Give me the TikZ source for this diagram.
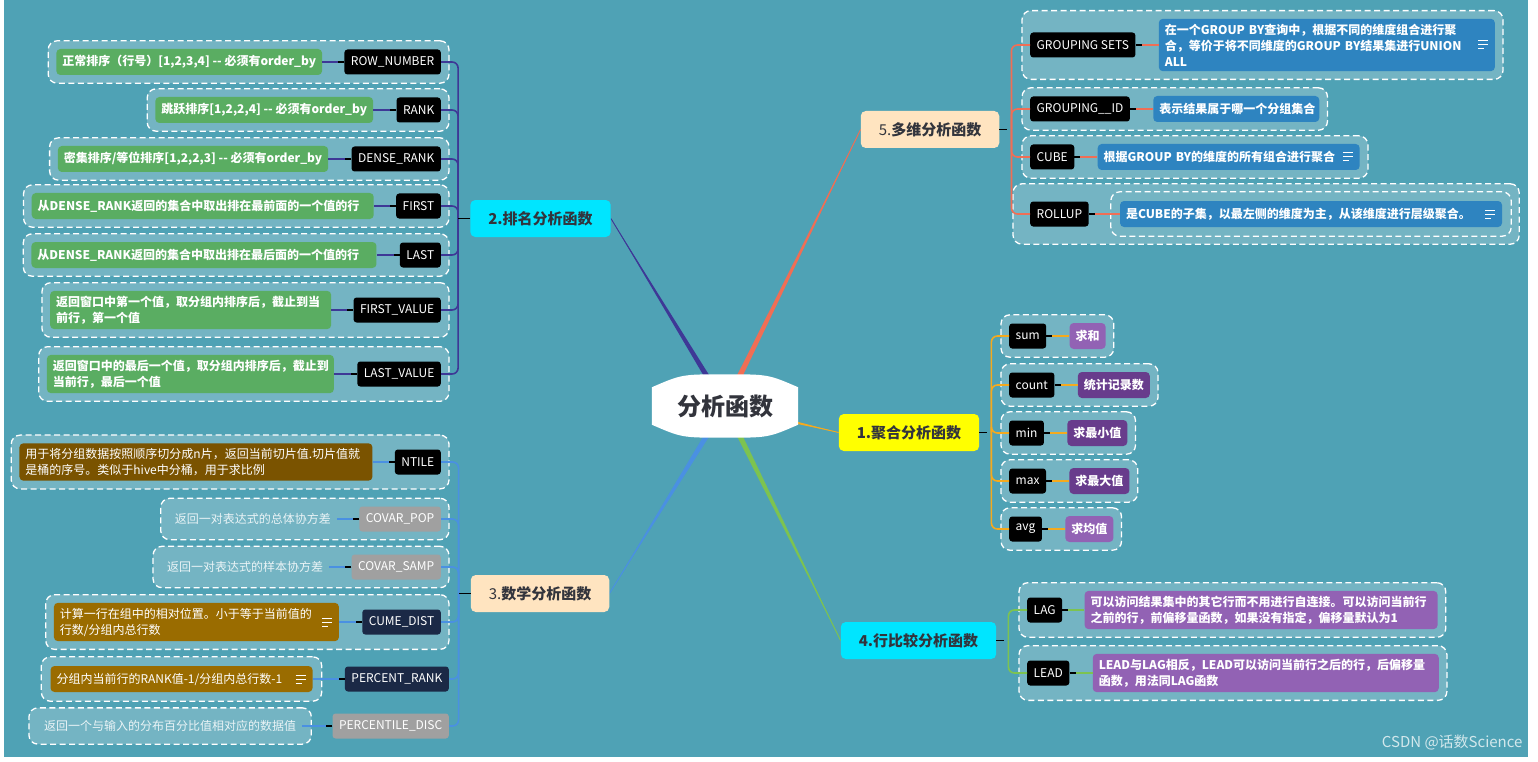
\documentclass[tikz,border=0pt]{standalone}
\usepackage{fontspec}
\setmainfont{Noto Sans CJK SC}
\usetikzlibrary{positioning,calc,fit}
\definecolor{seaT}{RGB}{79,162,181}
\definecolor{grpT}{RGB}{116,180,195}
\definecolor{rankC}{RGB}{62,56,150}
\definecolor{multiC}{RGB}{240,110,85}
\definecolor{aggC}{RGB}{245,170,30}
\definecolor{cmpC}{RGB}{125,195,80}
\definecolor{mathC}{RGB}{74,144,226}
\definecolor{cyanB}{RGB}{0,229,255}
\definecolor{peachB}{RGB}{255,228,192}
\definecolor{yelB}{RGB}{255,255,0}
\definecolor{grnD}{RGB}{90,173,98}
\definecolor{bluD}{RGB}{46,132,192}
\definecolor{lilD}{RGB}{146,98,180}
\definecolor{vioD}{RGB}{104,60,140}
\definecolor{brnD}{RGB}{122,83,0}
\definecolor{ochD}{RGB}{154,108,0}
\definecolor{navyF}{RGB}{27,41,70}
\definecolor{greyF}{RGB}{160,160,160}
\definecolor{inkT}{RGB}{50,52,60}
\pgfdeclarelayer{back}
\pgfdeclarelayer{mid}
\pgfsetlayers{back,mid,main}
% tapered link from the root to a branch
\newcommand\rootlink[3]{%
  \fill[#1] ($(#2)!3pt!90:(#3)$) -- (#3) -- ($(#2)!3pt!-90:(#3)$) -- cycle;
  \draw[#1, line width=0.9pt] (#2) -- (#3);}
% little "note" mark inside a description box
\newcommand\noteicon[1]{%
  \draw[white, line width=1pt] ($(#1.east)+(-17,-4)$) -- ++(10,0)
    ($(#1.east)+(-17,0)$) -- ++(10,0) ($(#1.east)+(-17,4)$) -- ++(6,0);}

\begin{document}
\begin{tikzpicture}[x=1pt, y=-1pt,
  grp/.style={draw=white, fill=grpT, line width=1.3pt, dash pattern=on 6pt off 3.5pt,
    rounded corners=9pt, inner sep=8pt},
  fn/.style={fill=#1, text=white, rounded corners=3pt, minimum height=25pt,
    inner xsep=6.5pt, inner ysep=3pt, font=\fontsize{12pt}{15pt}\selectfont},
  desc/.style={fill=#1, text=white, rounded corners=4pt, minimum height=26pt,
    inner xsep=6pt, inner ysep=5pt, align=left, font=\fontsize{12pt}{16pt}\selectfont\bfseries},
  lite/.style={font=\fontsize{12pt}{16pt}\selectfont\mdseries},
  plain/.style={text=white!88!seaT, inner xsep=6pt, font=\fontsize{12pt}{16pt}\selectfont},
  branch/.style={fill=#1, text=inkT, rounded corners=5pt, minimum height=37pt,
    inner xsep=18pt, font=\fontsize{15pt}{18pt}\selectfont\bfseries},
  trunk/.style={draw=#1, line width=1.6pt, rounded corners=6pt},
  link/.style={draw=#1, line width=1.4pt},
  stub/.style={draw=black, line width=1.4pt},
]
\useasboundingbox (0,0) rectangle (1538,762);

\begin{pgfonlayer}{back}
  \fill[white] (0,0) rectangle (1538,762);
  \fill[seaT] (4,0) rectangle (1528,757);
\end{pgfonlayer}

% main branches
\coordinate (rc) at (725,406);
\node[branch=cyanB] (b2) at (540.5,218.5) {2.排名分析函数};
\node[branch=peachB] (b3) at (540,593.5) {{\mdseries 3.}数学分析函数};
\node[branch=peachB] (b5) at (930,129.5) {{\mdseries 5.}多维分析函数};
\node[branch=yelB] (b1) at (909,432.5) {1.聚合分析函数};
\node[branch=cyanB] (b4) at (918.5,640.5) {4.行比较分析函数};

\begin{pgfonlayer}{back}
  \rootlink{rankC}{rc}{b2.east}
  \rootlink{mathC}{rc}{b3.east}
  \rootlink{multiC}{rc}{b5.west}
  \rootlink{aggC}{rc}{b1.west}
  \rootlink{cmpC}{rc}{b4.west}
\end{pgfonlayer}

% root
\node[font=\fontsize{24pt}{28pt}\selectfont\bfseries, text=inkT, minimum width=146pt,
  minimum height=63pt, inner sep=0pt] (root) at (rc) {分析函数};
\begin{pgfonlayer}{mid}
  \fill[white] ($(root.north west)+(0,13)$) .. controls ($(root.north west)+(30,0)$) .. (root.north)
    .. controls ($(root.north east)+(-30,0)$) .. ($(root.north east)+(0,13)$)
    -- ($(root.south east)+(0,-13)$) .. controls ($(root.south east)+(-30,0)$) .. (root.south)
    .. controls ($(root.south west)+(30,0)$) .. ($(root.south west)+(0,-13)$) -- cycle;
\end{pgfonlayer}

% 2. ranking functions
\node[fn=black, anchor=east] (rn) at (441,62) {ROW\_NUMBER};
\node[fn=black, anchor=east] (rk) at (441,110) {RANK};
\node[fn=black, anchor=east] (dr) at (441,159) {DENSE\_RANK};
\node[fn=black, anchor=east] (fi) at (441,206) {FIRST};
\node[fn=black, anchor=east] (la) at (441,255) {LAST};
\node[fn=black, anchor=east] (fv) at (441,310) {FIRST\_VALUE};
\node[fn=black, anchor=east] (lv) at (441,374) {LAST\_VALUE};
\node[desc=grnD, left=22pt of rn] (rnD) {正常排序（行号）[1,2,3,4]~-{}-~必须有order\_by};
\node[desc=grnD, left=23pt of rk] (rkD) {跳跃排序[1,2,2,4]~-{}-~必须有order\_by};
\node[desc=grnD, left=23pt of dr] (drD) {密集排序/等位排序[1,2,2,3]~-{}-~必须有order\_by};
\node[desc=grnD, text width=330pt, left=22pt of fi] (fiD) {从DENSE\_RANK返回的集合中取出排在最前面的一个值的行};
\node[desc=grnD, text width=333pt, left=23pt of la] (laD) {从DENSE\_RANK返回的集合中取出排在最后面的一个值的行};
\node[desc=grnD, text width=269pt, left=22pt of fv] (fvD) {返回窗口中第一个值，取分组内排序后，截止到当\\前行，第一个值};
\node[desc=grnD, text width=275pt, left=23pt of lv] (lvD) {返回窗口中的最后一个值，取分组内排序后，截止到\\当前行，最后一个值};

% 3. math functions
\node[fn=black, anchor=east] (nt) at (441,462) {NTILE};
\node[fn=greyF, anchor=east] (cp) at (441,519) {COVAR\_POP};
\node[fn=greyF, anchor=east] (cs) at (441,567) {COVAR\_SAMP};
\node[fn=navyF, anchor=east] (cd) at (441,622) {CUME\_DIST};
\node[fn=navyF, anchor=east] (pr) at (449,679) {PERCENT\_RANK};
\node[fn=greyF, anchor=east] (pd) at (449,726) {PERCENTILE\_DISC};
\node[desc=brnD, lite, text width=341pt, left=22pt of nt] (ntD) {用于将分组数据按照顺序切分成n片，返回当前切片值.切片值就\\是桶的序号。类似于hive中分桶，用于求比例};
\node[plain, left=22pt of cp] (cpD) {返回一对表达式的总体协方差};
\node[plain, left=22pt of cs] (csD) {返回一对表达式的样本协方差};
\node[desc=ochD, lite, text width=273pt, left=23pt of cd] (cdD) {计算一行在组中的相对位置。小于等于当前值的\\行数/分组内总行数};
\node[desc=ochD, lite, text width=250pt, left=32pt of pr] (prD) {分组内当前行的RANK值-1/分组内总行数-1};
\node[plain, left=30pt of pd] (pdD) {返回一个与输入的分布百分比值相对应的数据值};

% 5. multi-dimensional functions
\node[fn=black, anchor=west] (gs) at (1030,45) {GROUPING SETS};
\node[fn=black, anchor=west] (gi) at (1030,109) {GROUPING\_\_ID};
\node[fn=black, anchor=west] (cu) at (1030,157) {CUBE};
\node[fn=black, anchor=west] (ro) at (1030,214) {ROLLUP};
\node[desc=bluD, text width=324pt, right=23pt of gs] (gsD) {在一个GROUP BY查询中，根据不同的维度组合进行聚\\合，等价于将不同维度的GROUP BY结果集进行UNION\\ALL};
\node[desc=bluD, text width=154pt, right=23pt of gi] (giD) {表示结果属于哪一个分组集合};
\node[desc=bluD, text width=250pt, right=23pt of cu] (cuD) {根据GROUP BY的维度的所有组合进行聚合};
\node[desc=bluD, text width=370pt, right=31pt of ro] (roD) {是CUBE的子集，以最左侧的维度为主，从该维度进行层级聚合。};

% 1. aggregate functions
\node[fn=black, anchor=west] (sm) at (1009,336) {sum};
\node[fn=black, anchor=west] (ct) at (1009,385) {count};
\node[fn=black, anchor=west] (mn) at (1009,433) {min};
\node[fn=black, anchor=west] (mx) at (1009,481) {max};
\node[fn=black, anchor=west] (av) at (1009,529) {avg};
\node[desc=lilD, right=23pt of sm] (smD) {求和};
\node[desc=vioD, right=23pt of ct] (ctD) {统计记录数};
\node[desc=vioD, right=23pt of mn] (mnD) {求最小值};
\node[desc=vioD, right=23pt of mx] (mxD) {求最大值};
\node[desc=lilD, right=23pt of av] (avD) {求均值};

% 4. row comparison functions
\node[fn=black, anchor=west] (lg) at (1027,610) {LAG};
\node[fn=black, anchor=west] (ld) at (1027,673) {LEAD};
\node[desc=lilD, text width=341pt, right=22pt of lg] (lgD) {可以访问结果集中的其它行而不用进行自连接。可以访问当前行\\之前的行，前偏移量函数，如果没有指定，偏移量默认为1};
\node[desc=lilD, text width=334pt, right=23pt of ld] (ldD) {LEAD与LAG相反，LEAD可以访问当前行之后的行，后偏移量\\函数，用法同LAG函数};

\node[text=white!75!seaT, font=\fontsize{15pt}{18pt}\selectfont, anchor=east] (mark) at (1526,742) {CSDN @话数Science};

% dashed groups
\begin{pgfonlayer}{mid}
  \foreach \f/\d in {rn/rnD,rk/rkD,dr/drD,fi/fiD,la/laD,fv/fvD,lv/lvD,nt/ntD,cp/cpD,cs/csD,cd/cdD,
      gs/gsD,gi/giD,cu/cuD,sm/smD,ct/ctD,mn/mnD,mx/mxD,av/avD,lg/lgD,ld/ldD}
    \node[grp, fit=(\f)(\d)] (g\f) {};
  \node[grp, inner sep=9pt, fit=(prD)] (gpr) {};
  \node[grp, inner sep=9pt, fit=(pdD)] (gpd) {};
  \node[grp, inner sep=17pt, fit=(ro)(roD)] (gro) {};
  \node[grp, inner sep=9pt, fit=(roD)] (groD) {};
\end{pgfonlayer}

% trunks
\coordinate (j2) at ($(b2.west)+(-12,0)$);
\coordinate (j3) at ($(b3.west)+(-12,0)$);
\coordinate (j5) at ($(b5.east)+(12,0)$);
\coordinate (j1) at ($(b1.east)+(12,0)$);
\coordinate (j4) at ($(b4.east)+(12,0)$);
\foreach \c in {rn,rk,dr,fi,la,fv,lv} \draw[trunk=rankC] (j2) |- (\c.east);
\foreach \c in {nt,cp,cs,cd,pr,pd} \draw[trunk=mathC] (j3) |- (\c.east);
\foreach \c in {gs,gi,cu,ro} \draw[trunk=multiC] (j5) |- (\c.west);
\foreach \c in {sm,ct,mn,mx,av} \draw[trunk=aggC] (j1) |- (\c.west);
\foreach \c in {lg,ld} \draw[trunk=cmpC] (j4) |- (\c.west);
\draw[stub] (b2.west) -- (j2);
\draw[stub] (b3.west) -- (j3);
\draw[stub] (b5.east) -- ++(8,0);
\draw[stub] (b1.east) -- ++(8,0);
\draw[stub] (b4.east) -- ++(8,0);

% function to description
\foreach \f/\d/\c in {rn/rnD/rankC,rk/rkD/rankC,dr/drD/rankC,fi/fiD/rankC,la/laD/rankC,fv/fvD/rankC,
    lv/lvD/rankC,nt/ntD/mathC,cp/cpD/mathC,cs/csD/mathC,cd/cdD/mathC,pr/prD/mathC,pd/pdD/mathC} {
  \draw[link=\c] (\f.west) -- (\f.west -| \d.east);
  \draw[stub] (\f.west) -- ++(-6,0);
}
\foreach \f/\d/\c in {gs/gsD/multiC,gi/giD/multiC,cu/cuD/multiC,ro/roD/multiC,sm/smD/aggC,ct/ctD/aggC,
    mn/mnD/aggC,mx/mxD/aggC,av/avD/aggC,lg/lgD/cmpC,ld/ldD/cmpC} {
  \draw[link=\c] (\f.east) -- (\f.east -| \d.west);
  \draw[stub] (\f.east) -- ++(6,0);
}

% note marks
\foreach \n in {cdD,prD,gsD,cuD,roD} {\noteicon{\n}}
\end{tikzpicture}
\end{document}
